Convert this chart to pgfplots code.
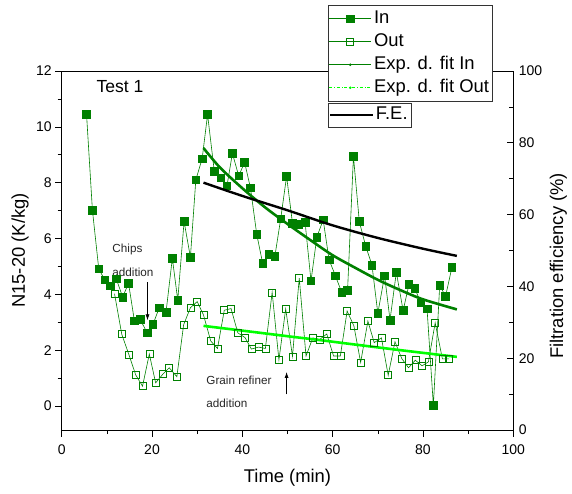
\documentclass[border=0pt]{standalone}
\usepackage{fontspec}
\setmainfont{Liberation Sans}
\usepackage{pgfplots}
\usepackage{pgfplotstable}
\pgfplotsset{compat=1.18}
\usetikzlibrary{arrows.meta}

\definecolor{dkgreen}{RGB}{0,128,0}
\definecolor{ltgreen}{RGB}{0,255,0}

% In (filled squares)
\pgfplotstableread{
t y
5.5 10.45
6.8 7.02
8.2 4.92
9.5 4.52
10.8 4.31
12.1 4.55
13.5 3.90
14.8 4.40
16.1 3.05
17.4 3.10
18.9 2.62
20.2 2.92
21.6 3.52
23.1 3.36
24.5 5.29
25.7 3.79
27.1 6.61
28.5 5.33
29.7 8.10
31.1 8.86
32.3 10.44
33.8 8.40
35.2 8.18
36.6 7.89
37.8 9.05
39.2 8.24
40.5 8.73
41.8 7.81
43.2 6.14
44.5 5.11
45.9 5.43
47.2 5.36
48.5 6.71
49.8 8.23
51.1 6.55
52.5 6.50
53.9 6.57
55.2 4.48
56.5 6.05
57.9 6.67
59.2 5.24
60.6 4.67
62.0 4.07
63.3 4.14
64.6 8.94
65.9 6.61
67.3 5.73
68.7 5.05
70.0 3.32
71.5 4.67
72.7 3.08
74.1 4.79
75.6 3.42
76.9 4.35
78.2 4.21
79.5 3.70
80.9 3.48
82.3 0.02
83.7 4.32
85.0 3.93
86.4 4.96
}\indata

% Out (open squares)
\pgfplotstableread{
t y
11.7 4.02
13.3 2.57
14.9 1.83
16.4 1.11
17.9 0.71
19.4 1.86
20.8 0.83
22.4 1.14
23.8 1.37
25.5 1.05
27.0 2.91
28.5 3.52
30.0 3.74
31.4 3.26
33.0 2.33
34.5 2.06
36.0 3.43
37.5 3.49
39.0 2.62
40.6 2.45
42.0 2.04
43.6 2.11
45.1 2.06
46.6 4.07
48.1 1.65
49.6 3.48
51.1 1.78
52.6 4.58
54.1 1.79
55.6 2.44
57.1 2.38
58.7 2.58
60.2 1.79
61.7 1.79
63.2 3.40
64.7 2.87
66.2 1.56
67.8 3.04
69.2 2.27
70.8 2.44
72.3 1.10
73.8 2.30
75.3 1.70
76.8 1.37
78.3 1.64
79.8 1.44
81.2 1.58
82.7 2.98
84.3 1.69
85.8 1.69
}\outdata

% exponential decay fits
\pgfplotstableread{
t y
31.4 9.24
35 8.55
40 7.80
45 7.12
50 6.52
55 5.95
60 5.40
65 4.95
70 4.52
75 4.15
80 3.82
87.5 3.46
}\fitin

\pgfplotstableread{
t y
31.4 2.87
40 2.70
50 2.50
57.2 2.36
65 2.20
75 2.00
87.5 1.76
}\fitout

\pgfplotstableread{
t y
31.4 68.9
40 65.2
50 61.2
60 57.0
70 53.5
80 50.5
87.5 48.5
}\fedata

\begin{document}
\begin{tikzpicture}
\pgfplotsset{
  every axis/.append style={
    scale only axis, width=451.6pt, height=359pt,
    xmin=0, xmax=100,
    major tick length=6.5pt, minor tick length=4pt,
    tick style={black, line width=0.6pt},
    axis line style={line width=0.9pt},
    ticklabel style={font=\fontsize{14}{14}\selectfont},
    /pgf/number format/assume math mode=true,
    label style={font=\fontsize{18.4}{18.4}\selectfont},
    legend image code/.code={\draw[mark repeat=2,mark phase=2,#1] plot coordinates {(0pt,0pt)(21pt,0pt)(42pt,0pt)};},
  },
}
\begin{axis}[
  ymin=-0.86, ymax=12,
  xtick={0,20,...,100}, minor x tick num=1,
  ytick={0,2,...,12}, minor y tick num=1,
  tick pos=left, tick align=outside,
  xticklabel style={yshift=-5pt},
  xlabel={Time (min)}, ylabel={N15-20 (K/kg)},
  xlabel style={at={(axis description cs:0.5,-0.134)}, anchor=center},
  ylabel style={at={(axis description cs:-0.092,0.5)}, anchor=center},
  legend style={at={(0.589,1.184)}, anchor=north west,
    font=\fontsize{18.4}{18.4}\selectfont, draw=black!80, line width=0.6pt,
    inner xsep=1pt, inner ysep=2pt, row sep=0pt, cells={anchor=west},
    nodes={inner sep=2.5pt, text height=14pt, text depth=4pt}},
]
\coordinate (O) at (rel axis cs:0,0);
\addplot[dkgreen, line width=0.6pt, mark=square*, mark size=3.8pt,
  mark options={fill=dkgreen, draw=dkgreen}] table {\indata};
\addplot[dkgreen, line width=0.6pt, mark=square, mark size=3.5pt,
  mark options={fill=white, draw=dkgreen}] table {\outdata};
\addlegendimage{dkgreen, line width=0.6pt, mark=*, mark size=1pt}
\addlegendimage{ltgreen, line width=0.6pt, dash dot, mark=*, mark size=1pt, mark options={solid}}
\addplot[dkgreen, line width=2.6pt, smooth, forget plot] table {\fitin};
\addplot[ltgreen, line width=2.6pt, smooth, forget plot] table {\fitout};
\legend{In, Out, Exp. d. fit In, Exp. d. fit Out}

\node[anchor=west, inner sep=0, font=\fontsize{17.5}{17.5}\selectfont] at (axis cs:7.7,11.43) {Test 1};
\node[anchor=west, inner sep=0, font=\fontsize{11.7}{11.7}\selectfont, text=black!85] at (axis cs:11.2,5.61) {Chips};
\node[anchor=west, inner sep=0, font=\fontsize{11.7}{11.7}\selectfont, text=black!85] at (axis cs:11.2,4.79) {addition};
\draw[-{Latex[length=6pt,width=4pt]}, line width=0.7pt] (axis cs:19,4.44) -- (axis cs:19,3.07);
\node[anchor=west, inner sep=0, font=\fontsize{11.7}{11.7}\selectfont, text=black!85] at (axis cs:32.0,0.93) {Grain refiner};
\node[anchor=west, inner sep=0, font=\fontsize{11.7}{11.7}\selectfont, text=black!85] at (axis cs:32.0,0.11) {addition};
\draw[-{Latex[length=6pt,width=4pt]}, line width=0.7pt] (axis cs:49.8,0.42) -- (axis cs:49.8,1.22);
\end{axis}

\begin{axis}[
  ymin=0, ymax=100,
  axis x line=none, axis y line*=right,
  ytick={0,20,...,100}, minor y tick num=1,
  tick align=inside,
  yticklabel style={anchor=west, xshift=2pt},
  ylabel={Filtration efficiency (\%)},
  ylabel style={at={(axis description cs:1.1,0.457)}, anchor=center},
  legend style={at={(0.589,0.911)}, anchor=north west,
    font=\fontsize{18.4}{18.4}\selectfont, draw=black!80, line width=0.6pt,
    inner xsep=1pt, inner ysep=0pt, cells={anchor=west},
    nodes={inner sep=2.5pt, text height=14pt, text depth=5pt}},
]
\addplot[black, line width=2.4pt, smooth] table {\fedata};
\addlegendentry{F.E.}
\end{axis}
\path (O) ++(-61.7pt,-63pt) rectangle ++(572pt,493pt);
\end{tikzpicture}
\end{document}
